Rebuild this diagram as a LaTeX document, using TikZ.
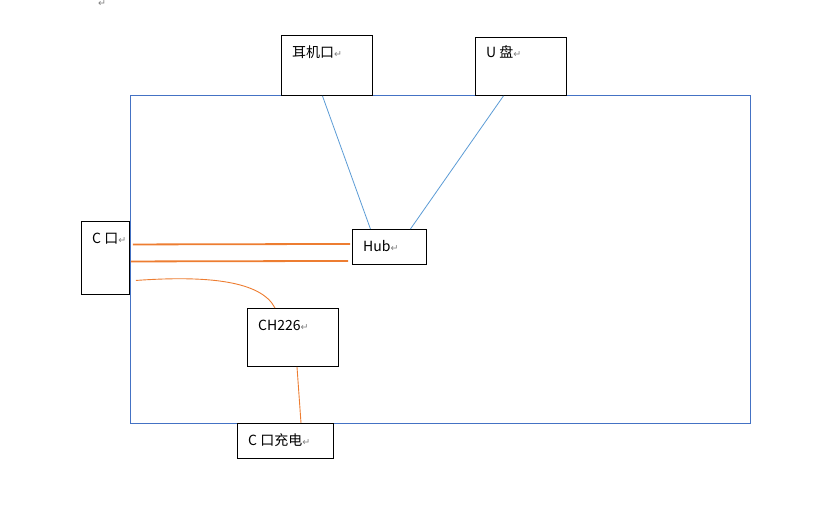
\documentclass[tikz,border=0pt]{standalone}
\usepackage{fontspec}
\setmainfont{Noto Sans CJK SC}
\newfontfamily\symfont{DejaVu Sans}
\usetikzlibrary{calc}
\definecolor{frameblue}{RGB}{68,114,196}
\definecolor{linkblue}{RGB}{91,155,213}
\definecolor{wireorange}{RGB}{237,125,49}
\newcommand{\parmk}{{\symfont\color{gray}\fontsize{9.5}{9.5}\selectfont ↵}}
\tikzset{
  box/.style={draw=black, line width=0.9pt, fill=white, inner sep=0pt, anchor=north west},
  txt/.style={anchor=west, inner sep=0pt, font=\fontsize{14}{14}\selectfont},
  frame/.style={draw=frameblue, line width=0.9pt},
  bluelink/.style={draw=linkblue, line width=0.8pt},
  thickwire/.style={draw=wireorange, line width=1.8pt},
  thinwire/.style={draw=wireorange, line width=0.9pt}
}
\begin{document}
\begin{tikzpicture}[x=1pt,y=-1pt]
\useasboundingbox (0,0) rectangle (814,509);
\node[inner sep=0pt, anchor=north] (topmark) at (102,0.5) {\parmk};
% main frame
\draw[frame] (130,95) rectangle (750,423);
% boxes
\node[box, minimum width=91pt, minimum height=60pt] (ej) at (281,35) {};
\node[txt] (ejt) at (292,52) {耳机口\parmk};
\node[box, minimum width=91pt, minimum height=58pt] (up) at (475,37) {};
\node[txt] (upt) at (486,52) {U 盘\parmk};
\node[box, minimum width=48pt, minimum height=73pt] (cp) at (81,221) {};
\node[txt] (cpt) at (92,239) {C 口\parmk};
\node[box, minimum width=74pt, minimum height=35pt] (hub) at (352,229) {};
\node[txt] (hubt) at (363,246) {Hub\parmk};
\node[box, minimum width=91pt, minimum height=58pt] (ch) at (247,308) {};
\node[txt] (cht) at (258,325) {CH226\parmk};
\node[box, minimum width=96pt, minimum height=35pt] (cc) at (237,423) {};
\node[txt] (cct) at (248,440) {C 口充电\parmk};
% blue links
\draw[bluelink] ($(ej.south)+(-4.5,0)$) -- ($(hub.north)+(-19,0)$);
\draw[bluelink] ($(up.south)+(-17.5,0)$) -- ($(hub.north)+(21,0)$);
% orange wires
\draw[thickwire] ($(cp.east)+(3,-13.5)$) -- ($(hub.west)+(-2,-3)$);
\draw[thickwire] ($(cp.east)+(1,3.5)$) -- ($(hub.west)+(-4,14)$);
\coordinate (cstart) at ($(cp.east)+(6,22.5)$);
\draw[thinwire] (cstart) .. controls ($(cstart)+(70,-5)$) and ($(cstart)+(125,0)$) .. ($(ch.north west)+(28,0)$);
\draw[thinwire] ($(ch.south west)+(50,0)$) -- ($(cc.north west)+(64,0)$);
\end{tikzpicture}
\end{document}
